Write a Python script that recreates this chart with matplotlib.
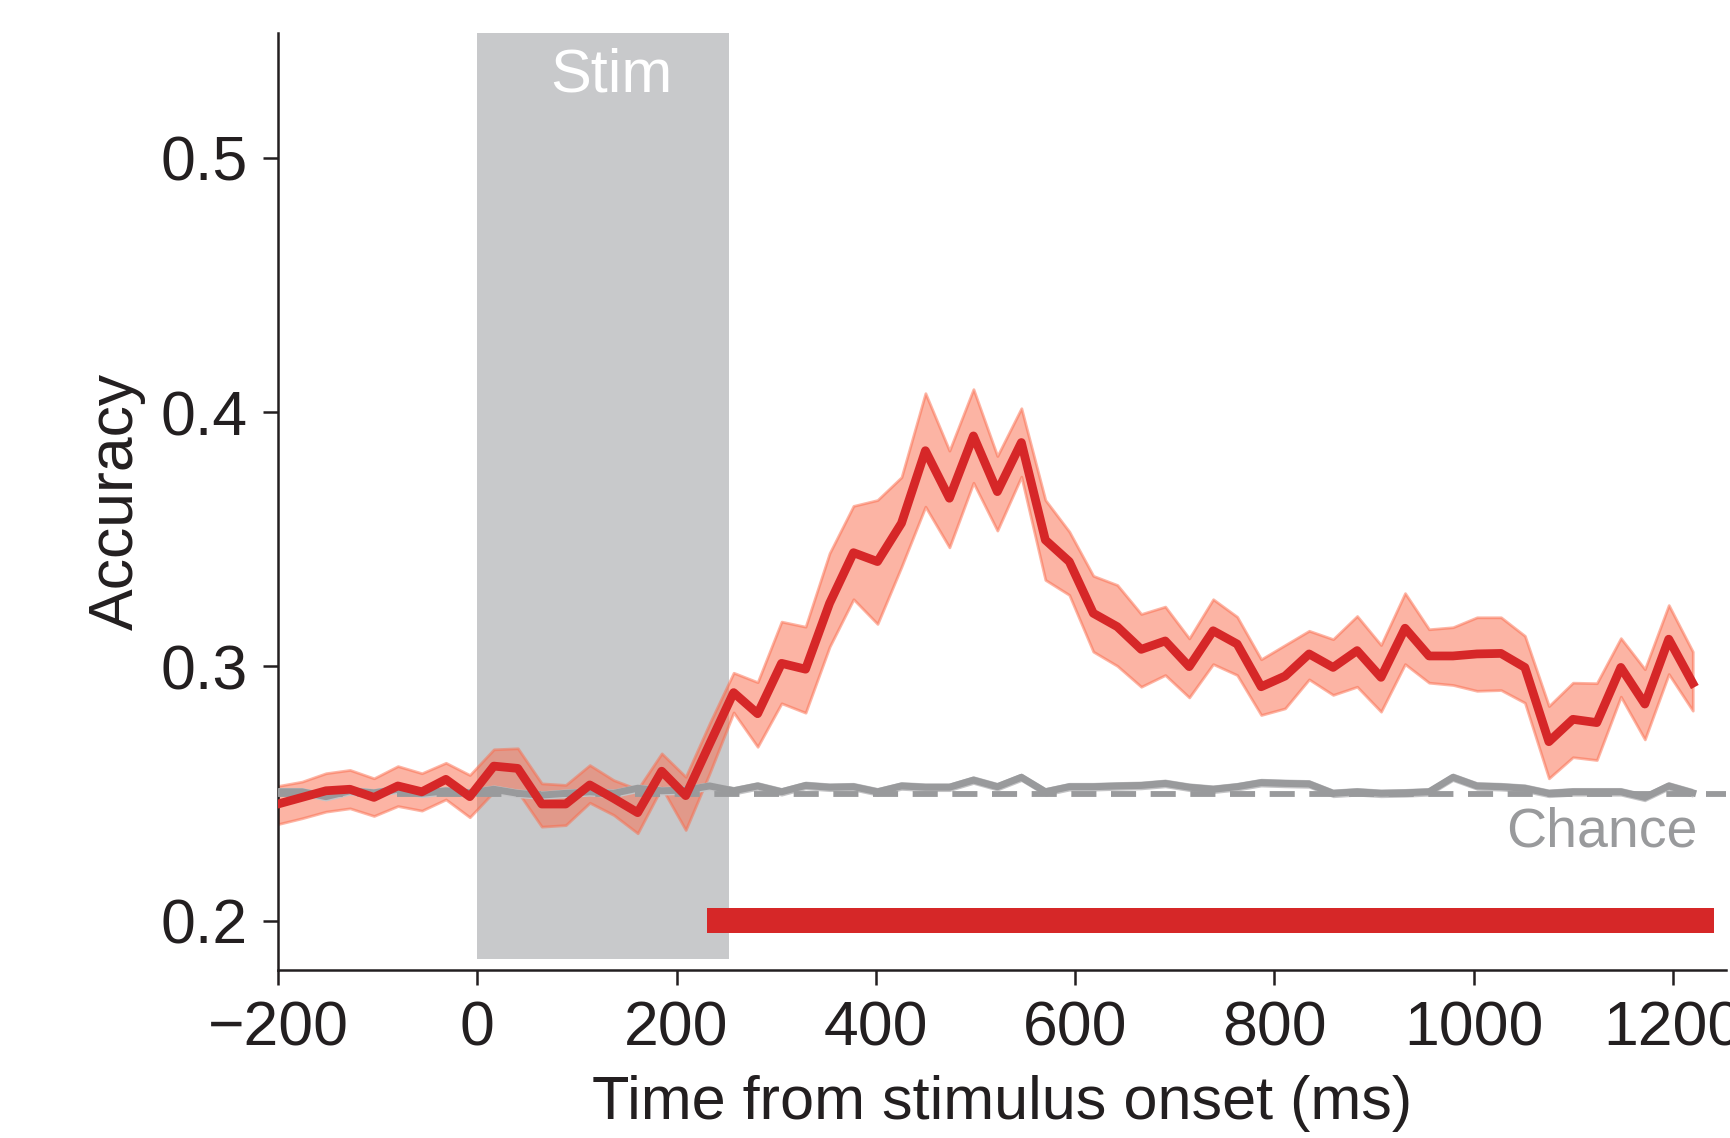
import numpy as np
import matplotlib.pyplot as plt

plt.rcParams['font.family'] = ['Liberation Sans', 'DejaVu Sans']

# time bins (ms from stimulus onset)
times = [-200.0, -175.9, -151.9, -127.8, -103.7, -79.7, -55.6, -31.5, -7.5, 16.6,
         40.7, 64.7, 88.8, 112.9, 136.9, 161.0, 185.1, 209.2, 233.2, 257.3,
         281.4, 305.4, 329.5, 353.6, 377.6, 401.7, 425.8, 449.8, 473.9, 498.0,
         522.0, 546.1, 570.2, 594.2, 618.3, 642.4, 666.4, 690.5, 714.6, 738.6,
         762.7, 786.8, 810.8, 834.9, 859.0, 883.1, 907.1, 931.2, 955.3, 979.3,
         1003.4, 1027.5, 1051.5, 1075.6, 1099.7, 1123.7, 1147.8, 1171.9, 1195.9, 1220.0]

# decoding accuracy, mean and error band
acc_mean = [0.2459, 0.2485, 0.2511, 0.2517, 0.2485, 0.2530, 0.2507, 0.2556, 0.2488, 0.2608,
            0.2599, 0.2459, 0.2459, 0.2534, 0.2481, 0.2425, 0.2588, 0.2492, 0.2695, 0.2897,
            0.2814, 0.3012, 0.2989, 0.3248, 0.3447, 0.3412, 0.3563, 0.3848, 0.3661, 0.3906,
            0.3687, 0.3880, 0.3497, 0.3412, 0.3209, 0.3156, 0.3067, 0.3100, 0.2999, 0.3140,
            0.3088, 0.2920, 0.2962, 0.3049, 0.2996, 0.3062, 0.2957, 0.3150, 0.3041, 0.3041,
            0.3049, 0.3051, 0.2996, 0.2704, 0.2792, 0.2779, 0.2996, 0.2852, 0.3107, 0.2934]
acc_hi = [0.2530, 0.2547, 0.2580, 0.2593, 0.2560, 0.2608, 0.2580, 0.2621, 0.2573, 0.2674,
          0.2678, 0.2540, 0.2534, 0.2612, 0.2553, 0.2517, 0.2658, 0.2566, 0.2776, 0.2975,
          0.2938, 0.3176, 0.3156, 0.3445, 0.3631, 0.3654, 0.3744, 0.4074, 0.3848, 0.4090,
          0.3827, 0.4015, 0.3654, 0.3530, 0.3356, 0.3320, 0.3206, 0.3235, 0.3110, 0.3264,
          0.3195, 0.3028, 0.3084, 0.3140, 0.3107, 0.3198, 0.3084, 0.3288, 0.3146, 0.3154,
          0.3193, 0.3193, 0.3120, 0.2844, 0.2936, 0.2934, 0.3111, 0.2989, 0.3241, 0.3058]
acc_lo = [0.2380, 0.2403, 0.2429, 0.2442, 0.2412, 0.2451, 0.2433, 0.2477, 0.2407, 0.2507,
          0.2507, 0.2370, 0.2376, 0.2464, 0.2416, 0.2344, 0.2524, 0.2357, 0.2580, 0.2819,
          0.2684, 0.2855, 0.2818, 0.3077, 0.3264, 0.3167, 0.3392, 0.3628, 0.3468, 0.3722,
          0.3534, 0.3746, 0.3340, 0.3281, 0.3058, 0.3002, 0.2920, 0.2966, 0.2878, 0.3009,
          0.2966, 0.2809, 0.2835, 0.2949, 0.2888, 0.2920, 0.2822, 0.3009, 0.2936, 0.2927,
          0.2904, 0.2907, 0.2857, 0.2560, 0.2643, 0.2632, 0.2881, 0.2713, 0.2970, 0.2826]

# shuffled-label accuracy
shuffle_mean = [0.2507, 0.2507, 0.2488, 0.2511, 0.2503, 0.2517, 0.2501, 0.2511, 0.2503, 0.2517,
                0.2501, 0.2494, 0.2501, 0.2507, 0.2501, 0.2521, 0.2511, 0.2514, 0.2530, 0.2511,
                0.2530, 0.2507, 0.2532, 0.2525, 0.2527, 0.2507, 0.2530, 0.2525, 0.2525, 0.2553,
                0.2527, 0.2564, 0.2507, 0.2527, 0.2527, 0.2530, 0.2532, 0.2540, 0.2525, 0.2517,
                0.2527, 0.2543, 0.2540, 0.2538, 0.2501, 0.2507, 0.2501, 0.2503, 0.2507, 0.2564,
                0.2530, 0.2527, 0.2521, 0.2501, 0.2507, 0.2507, 0.2507, 0.2485, 0.2530, 0.2503]

chance = 0.25
stim_window = (0, 253)
first_sig_bin = 18
bin_width = 24.07

fig = plt.figure(figsize=(17.31, 11.38), dpi=100)
ax = fig.add_axes([0.1606, 0.1473, 0.8363, 0.8237])

ylo, yhi = 0.1805, 0.549
ax.set_xlim(-200, 1253)
ax.set_ylim(ylo, yhi)

# stimulus period
ax.axvspan(stim_window[0], stim_window[1], ymin=(0.1848 - ylo) / (yhi - ylo), ymax=1,
           color='#c8c9cb', lw=0, zorder=0)
ax.text(np.mean(stim_window) + 8, 0.5322, 'Stim', color='white', fontsize=44,
        ha='center', va='center')

# accuracy band
ax.fill_between(times, acc_lo, acc_hi, color='#fb6a4a', alpha=0.5, lw=2, zorder=2)

# shuffled
sh = np.array(shuffle_mean)
ax.fill_between(times, sh - 0.0017, sh + 0.0017, color='#c4c4c6', lw=0, zorder=3)
ax.plot(times, shuffle_mean, color='#999a9c', lw=5, zorder=3)
ax.axhline(chance, color='#999a9c', lw=4.2, ls=(0, (4.3, 2.5)), zorder=3)
ax.text(1225, 0.2347, 'Chance', color='#999a9c', fontsize=40, ha='right', va='center')

ax.plot(times, acc_mean, color='#d62728', lw=6.3, zorder=4)

# significant bins
ax.broken_barh([(t - 3, bin_width) for t in times[first_sig_bin:]], (0.2 - 0.0049, 0.0098),
               facecolor='#d62728', edgecolor='none', zorder=4)

ax.set_xticks([-200, 0, 200, 400, 600, 800, 1000, 1200])
ax.set_yticks([0.2, 0.3, 0.4, 0.5])
ax.set_yticklabels(['0.2', '0.3', '0.4', '0.5'])
ax.set_xticklabels(['\u2212200', '0', '200', '400', '600', '800', '1000', '1200'])
ax.tick_params(axis='both', labelsize=45, length=11, width=1.8, color='#231f20',
               labelcolor='#231f20')
ax.tick_params(axis='x', pad=10)
ax.tick_params(axis='y', pad=11)

for s in ['top', 'right']:
    ax.spines[s].set_visible(False)
for s in ['left', 'bottom']:
    ax.spines[s].set_linewidth(1.8)
    ax.spines[s].set_color('#231f20')

ax.set_xlabel('Time from stimulus onset (ms)', fontsize=44, color='#231f20', labelpad=12)
ax.set_ylabel('Accuracy', fontsize=45, color='#231f20', labelpad=10)

fig.savefig('out.png', dpi=100)
